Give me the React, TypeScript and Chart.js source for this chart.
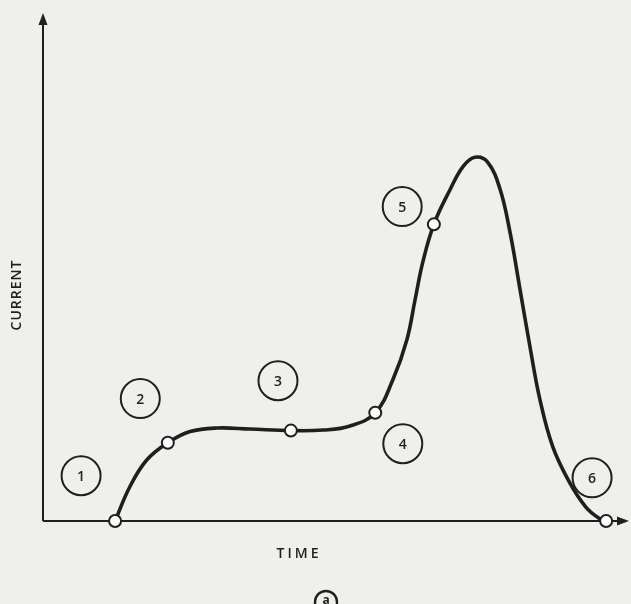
import React, { useEffect, useRef } from "react";
import { Chart, registerables } from "chart.js";

Chart.register(...registerables);

// Curve (time, current), arbitrary units 0..100
const curveTime = [12.3, 14.8, 17.7, 21.3, 25.1, 29.7, 35.3, 42.3, 47.8, 52.4, 56.7, 59.7, 62.1, 63.5, 64.8, 66.7, 69.5, 71.7, 73.7, 75.9, 78.0, 79.7, 81.4, 83.1, 84.8, 87.0, 89.9, 92.6, 94.8, 96.1];
const curveCurrent = [0, 6.7, 12.0, 15.4, 17.6, 18.3, 18.1, 17.8, 17.9, 18.7, 21.3, 27.8, 35.7, 43.6, 50.9, 58.4, 65.3, 69.8, 71.6, 70.6, 65.3, 56.8, 45.6, 34.3, 23.9, 14.6, 7.5, 2.8, 0.6, 0];

// Marked stage points on the curve
const markTime = [12.3, 21.3, 42.3, 56.7, 66.7, 96.1];
const markCurrent = [0, 15.4, 17.8, 21.3, 58.4, 0];

// Stage labels (circled numbers)
const stageLabels = ["1", "2", "3", "4", "5", "6"];
const stageTime = [6.5, 16.6, 40.1, 61.4, 61.3, 93.7];
const stageCurrent = [8.9, 24.1, 27.6, 15.2, 61.9, 8.5];

const xTitle = "TIME";
const yTitle = "CURRENT";
const figureTag = "a";

const INK = "#1f1f1f";
const BG = "#efefec";
const FONT = "'Open Sans', 'DejaVu Sans', sans-serif";

const drawingPlugin = {
  id: "drawing",
  beforeDraw(chart: any) {
    const { ctx, width, height } = chart;
    ctx.save();
    ctx.fillStyle = BG;
    ctx.fillRect(0, 0, width, height);
    ctx.restore();
  },
  beforeDatasetsDraw(chart: any) {
    const { ctx } = chart;
    const x = chart.scales.x;
    const y = chart.scales.y;
    const x0 = x.getPixelForValue(0);
    const y0 = y.getPixelForValue(0);
    const xEnd = x.getPixelForValue(100);
    const yTop = y.getPixelForValue(100);
    ctx.save();
    ctx.strokeStyle = INK;
    ctx.fillStyle = INK;
    ctx.lineWidth = 2;
    ctx.beginPath();
    ctx.moveTo(x0, y0);
    ctx.lineTo(x0, yTop + 8);
    ctx.moveTo(x0, y0);
    ctx.lineTo(xEnd - 8, y0);
    ctx.stroke();
    // arrowheads
    ctx.beginPath();
    ctx.moveTo(x0, yTop);
    ctx.lineTo(x0 - 4.5, yTop + 12);
    ctx.lineTo(x0 + 4.5, yTop + 12);
    ctx.closePath();
    ctx.fill();
    ctx.beginPath();
    ctx.moveTo(xEnd, y0);
    ctx.lineTo(xEnd - 12, y0 - 4.5);
    ctx.lineTo(xEnd - 12, y0 + 4.5);
    ctx.closePath();
    ctx.fill();

    // axis titles
    ctx.font = `600 14px ${FONT}`;
    ctx.textAlign = "center";
    ctx.textBaseline = "middle";
    (ctx as any).letterSpacing = "3px";
    ctx.fillText(xTitle, 299, y0 + 33);
    ctx.save();
    ctx.translate(x0 - 26, 295);
    ctx.rotate(-Math.PI / 2);
    (ctx as any).letterSpacing = "1px";
    ctx.font = `600 14px ${FONT}`;
    ctx.fillText(yTitle, 0, 0);
    ctx.restore();
    (ctx as any).letterSpacing = "0px";

    // circled stage labels
    ctx.lineWidth = 2;
    ctx.font = `600 14px ${FONT}`;
    for (let i = 0; i < stageLabels.length; i++) {
      const px = x.getPixelForValue(stageTime[i]);
      const py = y.getPixelForValue(stageCurrent[i]);
      ctx.beginPath();
      ctx.arc(px, py, 19.5, 0, Math.PI * 2);
      ctx.stroke();
      ctx.fillText(stageLabels[i], px, py + 1);
    }

    // figure tag (a)
    const tx = 326;
    const ty = y0 + 81;
    ctx.lineWidth = 2.4;
    ctx.beginPath();
    ctx.arc(tx, ty, 11, 0, Math.PI * 2);
    ctx.stroke();
    ctx.font = `bold 12px ${FONT}`;
    ctx.fillText(figureTag, tx, ty - 1);
    ctx.restore();
  },
};

export default function App() {
  const canvasRef = useRef<HTMLCanvasElement>(null);
  useEffect(() => {
    document.body.style.margin = "0";
    const canvas = canvasRef.current!;
    const chart = new Chart(canvas, {
      type: "line",
      data: {
        datasets: [
          {
            data: curveTime.map((t, i) => ({ x: t, y: curveCurrent[i] })),
            borderColor: INK,
            borderWidth: 3.6,
            pointRadius: 0,
            tension: 0.4,
            fill: false,
            clip: false as any,
            order: 2,
          },
          {
            data: markTime.map((t, i) => ({ x: t, y: markCurrent[i] })),
            showLine: false,
            pointRadius: 6,
            pointBackgroundColor: "#ffffff",
            pointBorderColor: INK,
            pointBorderWidth: 2,
            clip: false as any,
            order: 1,
          },
        ],
      },
      options: {
        responsive: false,
        animation: false,
        layout: { autoPadding: false, padding: { left: 43, right: 2, top: 13, bottom: 83 } },
        scales: {
          x: { type: "linear", min: 0, max: 100, display: false },
          y: { type: "linear", min: 0, max: 100, display: false },
        },
        plugins: { legend: { display: false }, tooltip: { enabled: false } },
        events: [],
      },
      plugins: [drawingPlugin],
    });
    return () => chart.destroy();
  }, []);
  return (
    <div style={{ position: "fixed", left: 0, top: 0, width: 631, height: 604, background: BG }}>
      <canvas ref={canvasRef} width={631} height={604} style={{ display: "block" }} />
    </div>
  );
}
